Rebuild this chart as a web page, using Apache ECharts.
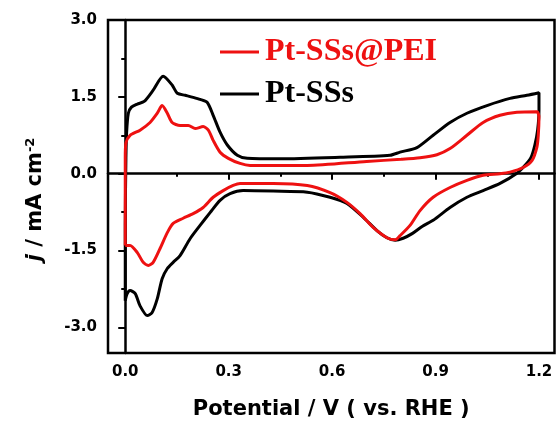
<!DOCTYPE html>
<html>
<head>
<meta charset="utf-8">
<script src="https://cdn.jsdelivr.net/npm/echarts@6/dist/echarts.min.js"></script>
<style>
  html, body { margin: 0; padding: 0; background: #fff; }
  #chart { width: 557px; height: 423px; }
</style>
</head>
<body>
<div id="chart"></div>
<script>
// tick values
var xMajor = [0, 0.3, 0.6, 0.9, 1.2];
var xMinor = [0.15, 0.45, 0.75, 1.05];
var yMajor = [-3, -1.5, 0, 1.5, 3];
var yMinor = [-2.25, -0.75, 0.75, 2.25];

// Pt-SSs (black): anodic scan then cathodic scan, potential / current density
var ssE = [0, 0, 0.002, 0.004, 0.009, 0.018, 0.035, 0.055, 0.081, 0.110, 0.136, 0.151, 0.174, 0.197, 0.217, 0.238, 0.255, 0.275, 0.296, 0.325, 0.354, 0.449, 0.623, 0.768, 0.797, 0.846, 0.893, 0.942, 0.991, 1.049, 1.116, 1.165, 1.2,
           1.2, 1.196, 1.188, 1.177, 1.159, 1.136, 1.087, 1.038, 0.991, 0.942, 0.893, 0.861, 0.832, 0.806, 0.783, 0.759, 0.730, 0.690, 0.643, 0.594, 0.528, 0.429, 0.342, 0.304, 0.275, 0.246, 0.217, 0.188, 0.159, 0.139, 0.122, 0.107, 0.093, 0.078, 0.064, 0.043, 0.029, 0.014, 0.005, 0];
var ssJ = [-2.48, -1.0, 0.3, 0.8, 1.18, 1.3, 1.36, 1.41, 1.63, 1.90, 1.73, 1.57, 1.53, 1.49, 1.45, 1.39, 1.14, 0.81, 0.56, 0.36, 0.30, 0.29, 0.32, 0.36, 0.42, 0.51, 0.75, 1.00, 1.18, 1.33, 1.47, 1.53, 1.58,
           1.24, 0.85, 0.56, 0.32, 0.16, 0.01, -0.19, -0.33, -0.46, -0.66, -0.91, -1.03, -1.17, -1.26, -1.30, -1.25, -1.11, -0.85, -0.58, -0.46, -0.36, -0.34, -0.33, -0.39, -0.52, -0.76, -1.01, -1.27, -1.60, -1.73, -1.85, -2.05, -2.44, -2.71, -2.77, -2.58, -2.34, -2.28, -2.35, -2.48];

// Pt-SSs@PEI (red)
var peiE = [0, 0, 0, 0.002, 0.014, 0.043, 0.072, 0.093, 0.107, 0.122, 0.136, 0.159, 0.183, 0.203, 0.226, 0.241, 0.255, 0.275, 0.299, 0.333, 0.362, 0.528, 0.70, 0.80, 0.855, 0.904, 0.942, 0.991, 1.038, 1.087, 1.136, 1.194, 1.2,
            1.198, 1.194, 1.18, 1.154, 1.116, 1.087, 1.038, 0.991, 0.942, 0.893, 0.855, 0.826, 0.797, 0.783, 0.759, 0.719, 0.681, 0.643, 0.594, 0.528, 0.429, 0.333, 0.313, 0.284, 0.255, 0.226, 0.197, 0.168, 0.139, 0.122, 0.101, 0.081, 0.067, 0.052, 0.035, 0.014, 0];
var peiJ = [-1.40, -0.5, 0.3, 0.6, 0.75, 0.85, 1.00, 1.18, 1.33, 1.18, 1.00, 0.94, 0.94, 0.88, 0.92, 0.85, 0.65, 0.42, 0.30, 0.20, 0.16, 0.16, 0.24, 0.28, 0.31, 0.37, 0.49, 0.75, 1.00, 1.14, 1.20, 1.21, 1.1,
            0.75, 0.52, 0.26, 0.12, 0.03, 0.0, -0.03, -0.13, -0.27, -0.46, -0.72, -1.01, -1.21, -1.29, -1.25, -1.05, -0.78, -0.56, -0.37, -0.23, -0.19, -0.19, -0.23, -0.33, -0.46, -0.66, -0.78, -0.87, -0.97, -1.15, -1.46, -1.73, -1.79, -1.73, -1.54, -1.40, -1.40];

function zip(a, b) {
  return a.map(function (v, i) { return [v, b[i]]; });
}

var chart = echarts.init(document.getElementById('chart'));
var labelFont = { fontFamily: 'DejaVu Sans', fontWeight: 'bold', fontSize: 15, color: '#000' };
var red = '#ee1111';

chart.setOption({
  animation: false,
  grid: {
    left: 108, right: 2.5, top: 20, bottom: 70,
    outerBoundsMode: 'none',
    show: true, borderColor: '#000', borderWidth: 2.5
  },
  legend: {
    orient: 'vertical',
    left: 215,
    top: 31,
    icon: 'rect',
    itemWidth: 39,
    itemHeight: 3,
    itemGap: 10,
    textStyle: { fontFamily: 'Liberation Serif', fontWeight: 'bold', fontSize: 32, padding: [0, 0, 0, 1] },
    data: [
      { name: 'Pt-SSs@PEI', textStyle: { color: red } },
      { name: 'Pt-SSs', textStyle: { color: '#000' } }
    ]
  },
  xAxis: [{
    type: 'value', min: -0.05, max: 1.245,
    name: 'Potential / V ( vs. RHE )', nameLocation: 'middle', nameGap: 46,
    nameTextStyle: { fontFamily: 'DejaVu Sans', fontWeight: 'bold', fontSize: 21, color: '#000' },
    axisLine: { lineStyle: { color: '#000', width: 2.5 } },
    axisTick: { customValues: xMajor, length: 6, lineStyle: { color: '#000', width: 2 } },
    axisLabel: Object.assign({ customValues: xMajor, margin: 12, formatter: function (v) { return v.toFixed(1); } }, labelFont),
    splitLine: { show: false }
  }, {
    type: 'value', min: -0.05, max: 1.245, position: 'bottom',
    axisLine: { show: false },
    axisTick: { customValues: xMinor, length: 3, lineStyle: { color: '#000', width: 2 } },
    axisLabel: { show: false },
    splitLine: { show: false }
  }],
  yAxis: [{
    type: 'value', min: -3.5, max: 3.0,
    name: '{i|j}{n| / mA cm}{s|-2}', nameLocation: 'middle', nameGap: 61, nameRotate: 90,
    nameTextStyle: {
      fontFamily: 'DejaVu Sans', fontWeight: 'bold', fontSize: 21, color: '#000',
      padding: [0, 26, 0, 0],
      rich: {
        i: { fontFamily: 'DejaVu Sans', fontStyle: 'italic', fontWeight: 'bold', fontSize: 21, color: '#000' },
        n: { fontFamily: 'DejaVu Sans', fontWeight: 'bold', fontSize: 21, color: '#000' },
        s: { fontFamily: 'DejaVu Sans', fontWeight: 'bold', fontSize: 13, color: '#000', verticalAlign: 'top', padding: [0, 0, 10, 0] }
      }
    },
    axisLine: { lineStyle: { color: '#000', width: 2.5 } },
    axisTick: { customValues: yMajor, length: 7, lineStyle: { color: '#000', width: 2 } },
    axisLabel: Object.assign({ customValues: yMajor, margin: 11, formatter: function (v) { return v.toFixed(1); } }, labelFont),
    splitLine: { show: false }
  }, {
    type: 'value', min: -3.5, max: 3.0, position: 'left',
    axisLine: { show: false },
    axisTick: { customValues: yMinor, length: 4, lineStyle: { color: '#000', width: 2 } },
    axisLabel: { show: false },
    splitLine: { show: false }
  }],
  series: [{
    name: 'Pt-SSs', type: 'line', data: zip(ssE, ssJ),
    showSymbol: false, smooth: 0.25, color: '#000',
    lineStyle: { width: 3, color: '#000' }
  }, {
    name: 'Pt-SSs@PEI', type: 'line', data: zip(peiE, peiJ),
    showSymbol: false, smooth: 0.25, color: red,
    lineStyle: { width: 3, color: red }
  }]
});
</script>
</body>
</html>
